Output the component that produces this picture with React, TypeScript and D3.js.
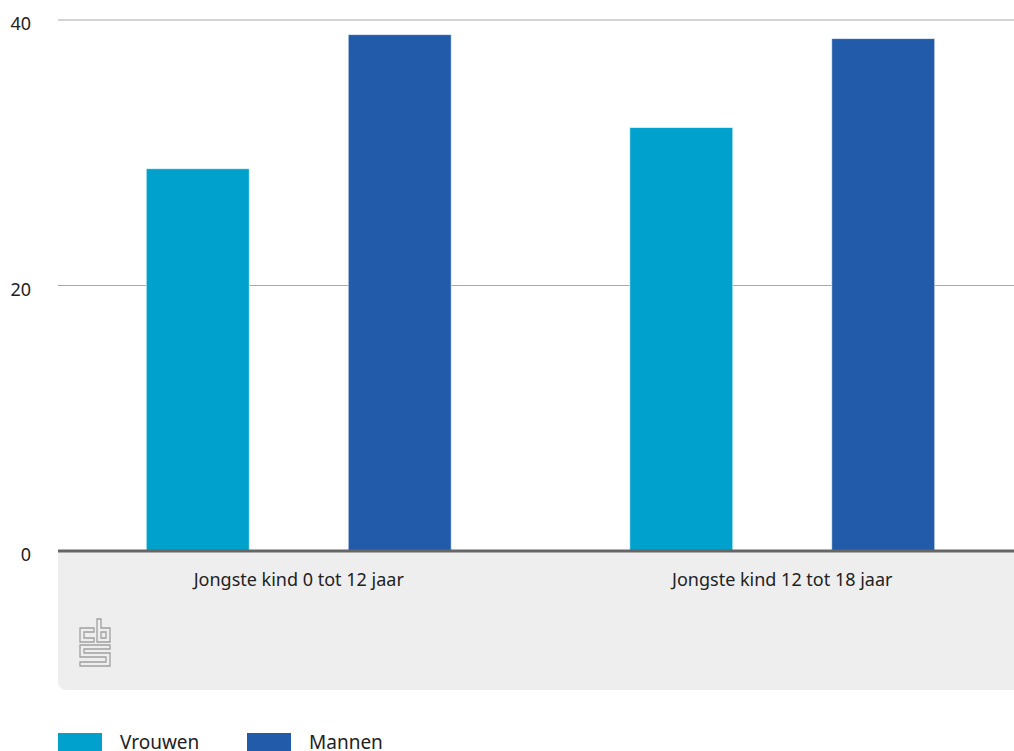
import React from "react";
import * as d3 from "d3";

const categories = ["Jongste kind 0 tot 12 jaar", "Jongste kind 12 tot 18 jaar"];
const seriesNames = ["Vrouwen", "Mannen"];
const vrouwen = [28.8, 31.9];
const mannen = [38.9, 38.6];
const yTicks = [0, 20, 40];
const colors = ["#00a1cd", "#225ba9"];

const W = 1014;
const H = 751;
const plotLeft = 58;
const plotRight = 1014;
const yTop = 20;
const yZero = 551;
const font = "'Noto Sans', sans-serif";

export default function App() {
  const y = d3.scaleLinear().domain([0, 40]).range([yZero, yTop]);
  const x0 = d3.scaleBand<string>().domain(categories).range([57, 1024]).paddingInner(0).paddingOuter(0);
  const x1 = d3
    .scaleBand<string>()
    .domain(seriesNames)
    .range([0, x0.bandwidth()])
    .paddingInner(0.49)
    .paddingOuter(0.442);
  const values = [vrouwen, mannen];

  return (
    <svg width={W} height={H} style={{ position: "absolute", left: 0, top: 0 }}>
      <rect x={0} y={0} width={W} height={H} fill="#fff" />
      {/* grey footer band */}
      <path
        d={`M${plotLeft},${yZero} L${W + 10},${yZero} L${W + 10},690 L${plotLeft + 9},690 Q${plotLeft},690 ${plotLeft},681 Z`}
        fill="#eeeeee"
      />
      {/* gridlines */}
      {yTicks
        .filter((t) => t !== 0)
        .map((t) => (
          <line key={t} x1={plotLeft} x2={plotRight} y1={y(t)} y2={y(t)} stroke="#a8a8a8" strokeWidth={1} />
        ))}
      {/* y tick labels */}
      {yTicks.map((t) => (
        <text key={t} x={31} y={y(t) + 10} textAnchor="end" fontFamily={font} fontSize={18} fill="#222">
          {t}
        </text>
      ))}
      {/* bars */}
      {categories.map((c, ci) =>
        seriesNames.map((s, si) => {
          const bx = (x0(c) as number) + (x1(s) as number);
          const by = y(values[si][ci]);
          return (
            <rect
              key={c + s}
              x={bx}
              y={by}
              width={x1.bandwidth()}
              height={yZero - by}
              fill={colors[si]}
              stroke="#ffffff"
              strokeOpacity={0.6}
              strokeWidth={1}
            />
          );
        })
      )}
      {/* zero axis */}
      <line x1={plotLeft} x2={plotRight} y1={yZero} y2={yZero} stroke="#666666" strokeWidth={3} />
      {/* category labels */}
      {categories.map((c) => (
        <text
          key={c}
          x={(x0(c) as number) + x0.bandwidth() / 2}
          y={586}
          textAnchor="middle"
          fontFamily={font}
          fontSize={18}
          fill="#222"
        >
          {c}
        </text>
      ))}
      {/* CBS logo */}
      <g fill="none" stroke="#a0a0a0" strokeWidth={1.3}>
        <path d="M80,628 L80,642 L94,642 L94,638 L84,638 L84,632 L94,632 L94,628 Z" />
        <path d="M97,619 L101,619 L101,628 L110,628 L110,642 L97,642 Z" />
        <path d="M101,632 L106,632 L106,638 L101,638 Z" />
        <path d="M80,645 L110,645 L110,649 L84,649 L84,653 L110,653 L110,666 L80,666 L80,662 L106,662 L106,657 L80,657 Z" />
      </g>
      {/* legend */}
      {seriesNames.map((s, i) => {
        const lx = i === 0 ? 58 : 247;
        return (
          <g key={s}>
            <rect x={lx} y={733} width={44} height={18} fill={colors[i]} />
            <text x={lx + 62} y={749} fontFamily={font} fontSize={19} fill="#222">
              {s}
            </text>
          </g>
        );
      })}
    </svg>
  );
}
